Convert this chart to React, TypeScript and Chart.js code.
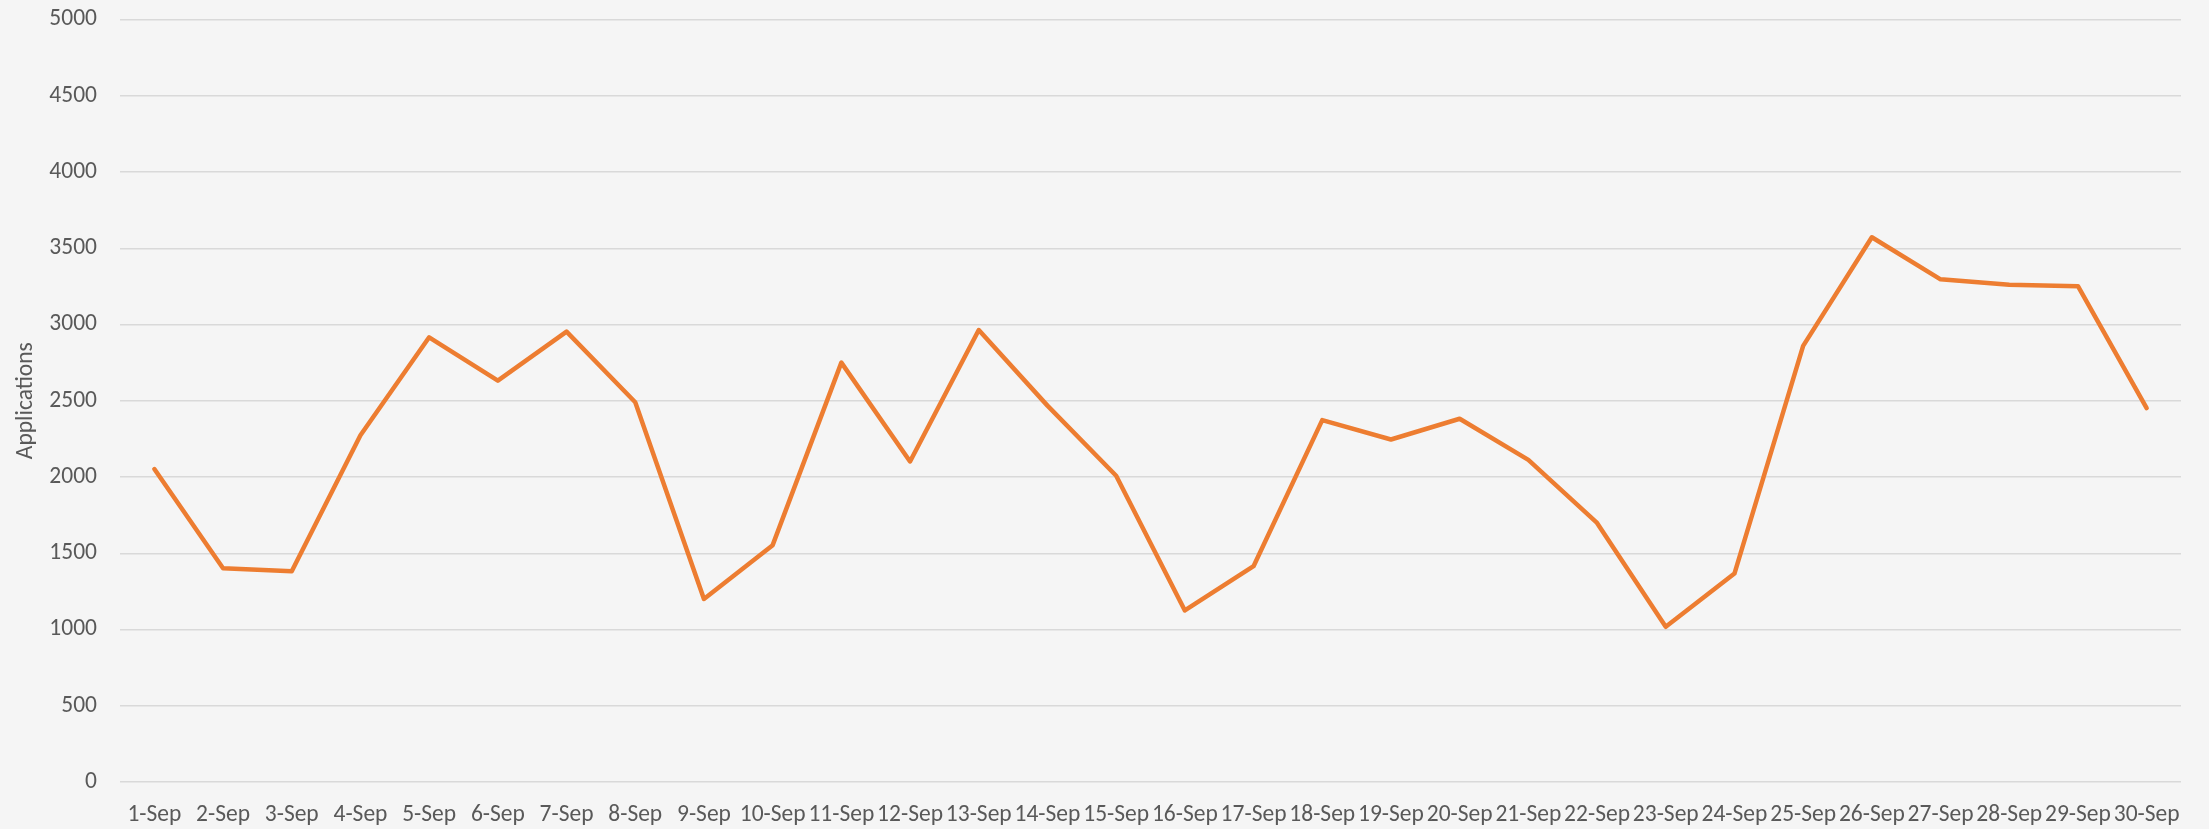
import React, { useEffect, useRef } from "react";
import { Chart, registerables } from "chart.js";

Chart.register(...registerables);

const categories = [
  "1-Sep", "2-Sep", "3-Sep", "4-Sep", "5-Sep", "6-Sep", "7-Sep", "8-Sep", "9-Sep", "10-Sep",
  "11-Sep", "12-Sep", "13-Sep", "14-Sep", "15-Sep", "16-Sep", "17-Sep", "18-Sep", "19-Sep", "20-Sep",
  "21-Sep", "22-Sep", "23-Sep", "24-Sep", "25-Sep", "26-Sep", "27-Sep", "28-Sep", "29-Sep", "30-Sep",
];

const applications = [
  2052, 1402, 1382, 2274, 2916, 2632, 2953, 2490, 1200, 1553,
  2750, 2102, 2964, 2468, 2008, 1125, 1415, 2373, 2246, 2382,
  2112, 1699, 1018, 1367, 2860, 3572, 3296, 3261, 3251, 2452,
];

const yMin = 0;
const yMax = 5000;
const yStep = 500;

const FONT = "Carlito, Lato, sans-serif";
const TEXT = "#595959";

export default function App() {
  const ref = useRef<HTMLCanvasElement | null>(null);

  useEffect(() => {
    document.body.style.margin = "0";
    const canvas = ref.current;
    if (!canvas) return;
    const chart = new Chart(canvas, {
      type: "line",
      data: {
        labels: categories,
        datasets: [
          {
            label: "Applications",
            data: applications,
            borderColor: "#ED7D31",
            backgroundColor: "#ED7D31",
            borderWidth: 4.5,
            pointRadius: 0,
            pointHoverRadius: 0,
            tension: 0,
            borderJoinStyle: "round",
            borderCapStyle: "round",
            fill: false,
          },
        ],
      },
      options: {
        animation: false,
        responsive: false,
        maintainAspectRatio: false,
        layout: { padding: { left: 12, right: 28, top: 19.5, bottom: 0 } },
        plugins: {
          legend: { display: false },
          tooltip: { enabled: false },
          title: { display: false },
        },
        scales: {
          x: {
            type: "category",
            offset: true,
            grid: { display: false, drawTicks: false },
            border: { display: false },
            ticks: {
              autoSkip: false,
              maxRotation: 0,
              minRotation: 0,
              padding: 19,
              color: TEXT,
              font: { family: FONT, size: 23.5 },
            },
            afterFit: (axis: any) => {
              axis.height = 829 - 782;
            },
          },
          y: {
            min: yMin,
            max: yMax,
            grid: {
              color: "#d9d9d9",
              lineWidth: 1.5,
              drawTicks: true,
              tickLength: 23,
              tickColor: "rgba(0,0,0,0)",
            },
            border: { display: false },
            ticks: {
              stepSize: yStep,
              padding: 0,
              color: TEXT,
              font: { family: FONT, size: 23.5 },
              callback: (v: any) => String(v),
            },
            title: {
              display: true,
              text: "Applications",
              color: TEXT,
              font: { family: FONT, size: 23.5 },
              padding: { top: 0, bottom: 0 },
            },
            afterFit: (axis: any) => {
              axis.width = 120 - 12;
            },
          },
        },
      },
    });
    return () => chart.destroy();
  }, []);

  return (
    <div style={{ width: 2209, height: 829, background: "#f5f5f5" }}>
      <canvas ref={ref} width={2209} height={829} style={{ display: "block" }} />
    </div>
  );
}
